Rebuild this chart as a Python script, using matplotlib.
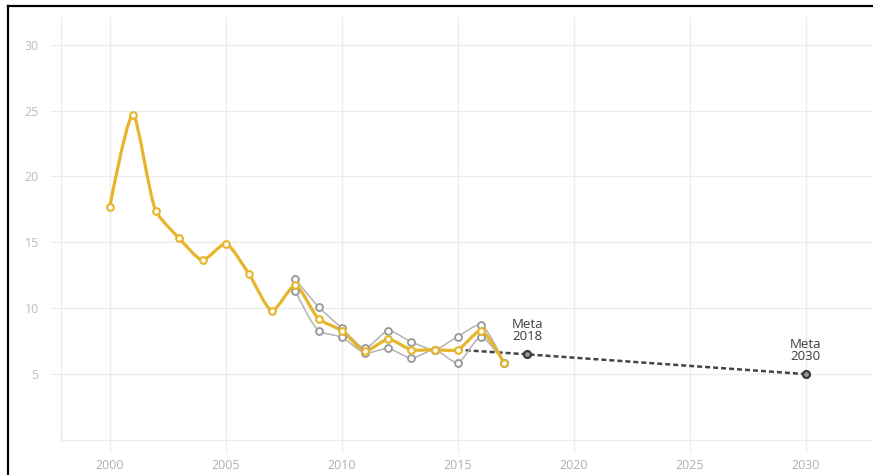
import numpy as np
import matplotlib
matplotlib.use("Agg")
import matplotlib.pyplot as plt
from matplotlib.path import Path
from matplotlib.patches import PathPatch
from matplotlib.lines import Line2D

# data
years = list(range(2000, 2018))
total = [17.7, 24.7, 17.35, 15.3, 13.65, 14.9, 12.6, 9.8, 11.75, 9.2,
         8.3, 6.75, 7.65, 6.85, 6.85, 6.85, 8.3, 5.85]
sub_years = list(range(2008, 2018))
sub_a = [12.2, 10.1, 8.5, 6.95, 8.3, 7.45, 6.85, 7.85, 8.75, 5.85]
sub_b = [11.3, 8.3, 7.8, 6.6, 6.95, 6.2, 6.85, 5.85, 7.85, 5.85]
meta_years = [2015, 2018, 2030]
meta_vals = [6.85, 6.5, 5.0]
meta_labels = ["Meta\n2018", "Meta\n2030"]

YELLOW = "#e6b52c"
GREY = "#b3b3b3"
GRID = "#ececec"
SMOOTH = 0.65


def tangent(p0, p1, p2, smooth=SMOOTH):
    # centripetal catmull-rom handles (same idea as plotly's spline)
    d1 = p0 - p1
    d2 = p2 - p1
    d1a = np.hypot(*d1) ** 0.5
    d2a = np.hypot(*d2) ** 0.5
    num = (d2a * d2a * d1 - d1a * d1a * d2) * smooth
    den1 = 3 * d2a * (d1a + d2a)
    den2 = 3 * d1a * (d1a + d2a)
    a = p1 + (num / den1 if den1 else 0)
    b = p1 - (num / den2 if den2 else 0)
    return a, b


def spline_path(ax, xs, ys):
    pts = ax.transData.transform(np.column_stack([xs, ys]))
    n = len(pts)
    tans = [tangent(pts[i - 1], pts[i], pts[i + 1]) for i in range(1, n - 1)]
    verts = [pts[0], tans[0][0], pts[1]]
    codes = [Path.MOVETO, Path.CURVE3, Path.CURVE3]
    for i in range(2, n - 1):
        verts += [tans[i - 2][1], tans[i - 1][0], pts[i]]
        codes += [Path.CURVE4] * 3
    verts += [tans[-1][1], pts[-1]]
    codes += [Path.CURVE3] * 2
    return Path(verts, codes)


def draw_spline(ax, xs, ys, color, lw, z):
    patch = PathPatch(spline_path(ax, xs, ys), facecolor="none", edgecolor=color, lw=lw,
                      transform=None, zorder=z, capstyle="round", joinstyle="round")
    ax.add_artist(patch)


plt.rcParams['font.family'] = ['Open Sans', 'DejaVu Sans']

fig = plt.figure(figsize=(8.73, 4.75), dpi=100)
ax = fig.add_axes([61 / 873, 35 / 475, 1 - 61 / 873, 423 / 475])
ax.set_xlim(1997.9, 2032.9)
ax.set_ylim(0, 32.1)

ax.set_xticks(range(2000, 2031, 5))
ax.set_yticks(range(5, 31, 5))
ax.grid(True, color=GRID, lw=1)
ax.set_axisbelow(True)
for s in ["top", "right"]:
    ax.spines[s].set_visible(False)
for s in ["left", "bottom"]:
    ax.spines[s].set_color(GRID)
    ax.spines[s].set_linewidth(1)
ax.tick_params(axis="x", length=9, color=GRID, labelcolor="#b0b0b0", labelsize=9, pad=5)
ax.tick_params(axis="y", length=8, color=GRID, labelcolor="#bdbdbd", labelsize=9, pad=8)

# target dashed line
ax.plot(meta_years, meta_vals, ls=(0, (2, 1.2)), color="#444444", lw=1.8, zorder=2)
ax.plot(meta_years[1:], meta_vals[1:], ls="none", marker="o", ms=5,
        mfc="#9a9a9a", mec="#3a3a3a", mew=1.6, zorder=6)
for yr, v, lab in zip(meta_years[1:], meta_vals[1:], meta_labels):
    ax.annotate(lab, (yr, v), xytext=(0, 8), textcoords="offset points",
                ha="center", va="bottom", fontsize=9.5, color="#3c3c3c",
                linespacing=0.95)

fig.canvas.draw()
draw_spline(ax, sub_years, sub_a, GREY, 1.1, 3)
draw_spline(ax, sub_years, sub_b, GREY, 1.1, 3)
draw_spline(ax, years, total, YELLOW, 2.3, 4)

ax.plot(sub_years, sub_a, ls="none", marker="o", ms=5, mfc="white", mec="#9c9c9c", mew=1.4, zorder=5)
ax.plot(sub_years, sub_b, ls="none", marker="o", ms=5, mfc="white", mec="#9c9c9c", mew=1.4, zorder=5)
ax.plot(years, total, ls="none", marker="o", ms=4.8, mfc="white", mec=YELLOW, mew=1.5, zorder=6)

# black screenshot frame on top and left
fig.add_artist(Line2D([8 / 873, 1], [1 - 6 / 475, 1 - 6 / 475], color="black", lw=1.6,
                      transform=fig.transFigure))
fig.add_artist(Line2D([8 / 873, 8 / 873], [0, 1 - 6 / 475], color="black", lw=1.6,
                      transform=fig.transFigure))

fig.savefig("out.png", dpi=100)
